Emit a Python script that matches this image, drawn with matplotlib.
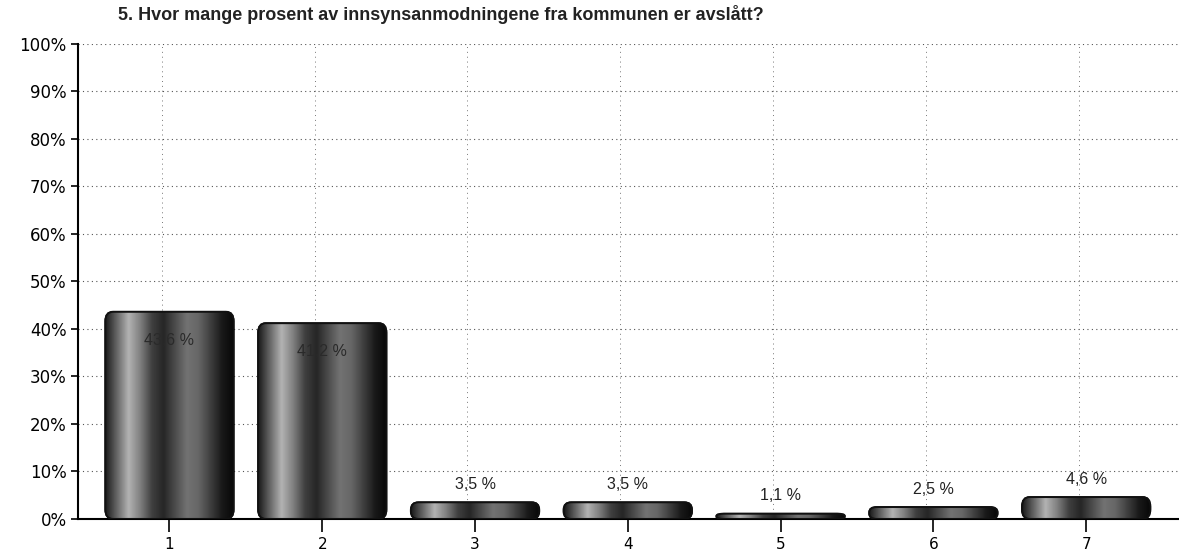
import matplotlib
matplotlib.use("Agg")
import matplotlib.pyplot as plt
import numpy as np
from matplotlib.patches import FancyBboxPatch
from matplotlib.ticker import FuncFormatter

categories = ["1", "2", "3", "4", "5", "6", "7"]
values = [43.6, 41.2, 3.5, 3.5, 1.1, 2.5, 4.6]
labels = ["43,6 %", "41,2 %", "3,5 %", "3,5 %", "1,1 %", "2,5 %", "4,6 %"]
title = "5. Hvor mange prosent av innsynsanmodningene fra kommunen er avslått?"

plt.rcParams["font.family"] = ["Liberation Sans", "DejaVu Sans"]

fig = plt.figure(figsize=(11.79, 5.55), dpi=100)
ax = fig.add_axes([0.066, 0.065, 0.933, 0.856])

x = np.arange(1, len(categories) + 1)
width = 0.84
ax.set_xlim(0.4, 7.6)
ax.set_ylim(0, 100)

# dotted grid
for yv in range(10, 101, 10):
    ax.axhline(yv, color="#555555", lw=0.8, ls=(0, (1, 3)), zorder=0)
for xv in x:
    ax.axvline(xv - 0.05, color="#777777", lw=0.7, ls=(0, (1, 4)), zorder=0)

# cylinder-like gradient
grad = np.array([0.1, 0.4, 0.7, 0.5, 0.25, 0.15, 0.3, 0.45, 0.4, 0.25, 0.1, 0.03])
grad = np.interp(np.linspace(0, 11, 200), np.arange(12), grad)[None, :]

for xi, v, lab in zip(x, values, labels):
    left = xi - width / 2
    r = min(2.0, v * 0.45)
    patch = FancyBboxPatch((left, 0), width, v,
                           boxstyle="round,pad=0,rounding_size=0.05",
                           mutation_aspect=r / 0.05,
                           facecolor="#555555", edgecolor="#111111", lw=1.2, zorder=2)
    ax.add_patch(patch)
    im = ax.imshow(grad, cmap="gray", vmin=0, vmax=1, aspect="auto",
                   extent=(left, left + width, 0, v), zorder=3)
    im.set_clip_path(patch)
    edge = FancyBboxPatch((left, 0), width, v,
                          boxstyle="round,pad=0,rounding_size=0.05",
                          mutation_aspect=r / 0.05,
                          facecolor="none", edgecolor="#111111", lw=1.4, zorder=4)
    ax.add_patch(edge)
    if v > 20:
        ax.text(xi, v - 6, lab, ha="center", va="center", fontsize=11.5,
                color="#2a2a2a", zorder=5)
    else:
        ax.text(xi, v + 2.2, lab, ha="center", va="bottom", fontsize=11.5,
                color="#222222", zorder=5)

ax.set_xticks(x)
ax.set_xticklabels(categories)
ax.set_yticks(range(0, 101, 10))
ax.yaxis.set_major_formatter(FuncFormatter(lambda v, p: f"{int(v)}%"))
ax.tick_params(axis="y", length=5, width=1.2, labelsize=12, pad=3)
ax.tick_params(axis="x", length=9, width=1.2, labelsize=11, pad=4)
for t in ax.get_yticklabels() + ax.get_xticklabels():
    t.set_family(["DejaVu Sans"])

for s in ["top", "right"]:
    ax.spines[s].set_visible(False)
ax.spines["left"].set_linewidth(1.5)
ax.spines["bottom"].set_linewidth(1.5)

fig.text(118 / 1179, 1 - 14 / 555, title, ha="left", va="center",
         fontsize=13, fontweight="bold", color="#222222")

fig.savefig("out.png", dpi=100)
